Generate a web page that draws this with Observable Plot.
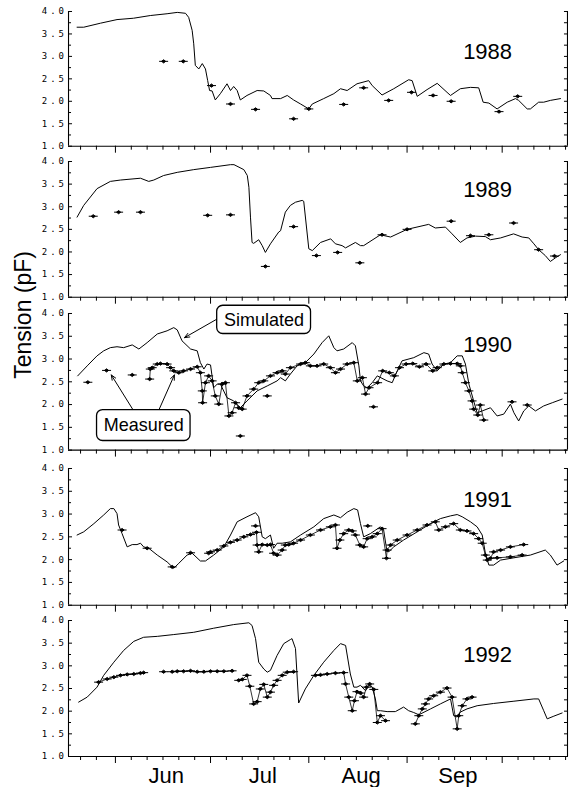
<!DOCTYPE html>
<html>
<head>
<meta charset="utf-8">
<script src="https://cdn.jsdelivr.net/npm/d3@7"></script>
<script src="https://cdn.jsdelivr.net/npm/@observablehq/plot@0.6"></script>
<style>
  html, body { margin: 0; padding: 0; background: white; }
  #chart { position: relative; width: 571px; height: 787px; overflow: hidden; }
  #chart svg { position: absolute; left: 0; }
  g[aria-label="y-axis tick label"] { letter-spacing: 3px; }
</style>
</head>
<body>
<div id="chart"></div>
<script>
// ---------- data (x = day of year, y = tension pF) ----------
const sim1988 = [[139.9,3.65],[142.0,3.65],[147.3,3.74],[152.5,3.82],[157.7,3.85],[163.0,3.91],[168.3,3.95],[171.5,3.98],[174.1,3.96],[175.1,3.87],[176.2,3.58],[176.7,3.28],[177.2,2.80],[178.3,2.72],[179.4,2.84],[180.4,2.72],[181.1,2.46],[181.7,2.24],[182.5,2.23],[183.5,2.03],[185.1,2.17],[187.2,2.39],[188.3,2.24],[189.3,2.33],[190.4,2.24],[191.4,2.03],[193.5,2.13],[196.7,2.24],[198.8,2.23],[200.9,2.13],[201.4,2.06],[204.1,2.06],[206.2,2.13],[208.2,2.03],[210.4,1.94],[213.0,1.83],[214.1,1.94],[217.7,2.06],[220.9,2.17],[223.0,2.28],[225.1,2.24],[228.2,2.39],[231.9,2.46],[233.0,2.35],[236.1,2.14],[239.8,2.28],[244.5,2.48],[245.6,2.46],[247.2,2.11],[250.3,2.26],[253.5,2.40],[256.6,2.20],[257.7,2.13],[260.8,2.28],[264.0,2.31],[266.6,2.30],[268.0,1.98],[269.8,1.96],[272.4,1.83],[275.6,1.98],[278.2,2.06],[279.2,2.02],[281.9,1.83],[282.9,1.83],[285.5,1.98],[287.1,1.98],[289.2,2.02],[292.4,2.06]];
const iso1988 = [[167.2,2.89],[173.4,2.89],[182.3,2.35],[188.3,1.94],[196.2,1.82],[208.2,1.61],[213.0,1.83],[224.0,1.93],[230.3,2.30],[238.2,2.02],[245.4,2.20],[252.2,2.13],[257.9,2.00],[273.0,1.77],[278.9,2.11]];
const runs1988 = [];

const sim1989 = [[139.9,2.77],[142.0,3.03],[146.2,3.40],[150.4,3.56],[153.6,3.59],[159.9,3.63],[162.5,3.56],[164.1,3.59],[167.2,3.69],[171.5,3.76],[176.7,3.82],[182.0,3.87],[188.3,3.93],[189.4,3.93],[192.5,3.82],[193.6,3.69],[194.1,3.43],[194.6,2.77],[195.1,2.21],[195.6,2.19],[197.2,2.27],[198.3,2.14],[199.3,1.99],[200.9,2.18],[203.5,2.44],[204.1,2.47],[205.6,2.88],[207.2,3.03],[208.8,3.10],[210.9,3.14],[211.4,3.12],[213.0,2.07],[214.1,2.03],[216.7,2.21],[219.9,2.29],[221.4,2.18],[223.5,2.14],[224.6,2.09],[227.7,2.21],[229.3,2.14],[230.3,2.14],[235.6,2.38],[238.8,2.33],[244.0,2.50],[250.8,2.61],[252.9,2.53],[256.1,2.55],[258.2,2.40],[260.8,2.21],[262.9,2.31],[265.6,2.35],[268.7,2.34],[270.3,2.27],[273.5,2.31],[277.6,2.40],[280.3,2.33],[282.4,2.31],[284.0,2.18],[285.5,2.05],[287.6,1.92],[289.2,1.79],[290.8,1.87],[292.4,1.94]];
const iso1989 = [[145.0,2.79],[153.0,2.88],[159.9,2.88],[181.1,2.81],[188.3,2.82],[199.3,1.68],[208.2,2.56],[215.4,1.92],[222.1,1.99],[229.1,1.76],[236.1,2.38],[244.0,2.50],[257.9,2.68],[264.0,2.36],[269.8,2.38],[277.6,2.64],[285.5,2.05],[290.5,1.91]];
const runs1989 = [];

const sim1990 = [[140.1,2.63],[143.1,2.85],[146.2,3.07],[148.3,3.18],[150.4,3.25],[152.5,3.27],[154.6,3.25],[157.3,3.31],[159.4,3.22],[162.0,3.36],[165.2,3.55],[168.3,3.62],[170.4,3.69],[171.5,3.64],[173.0,3.40],[175.7,3.22],[177.8,3.18],[178.8,2.92],[179.9,2.78],[180.9,2.89],[182.0,2.87],[183.0,2.37],[184.1,2.45],[185.1,2.45],[187.2,2.15],[189.3,2.08],[191.4,1.93],[193.5,2.08],[196.7,2.30],[199.9,2.41],[203.0,2.52],[204.1,2.59],[205.6,2.52],[207.2,2.67],[209.3,2.85],[211.9,2.92],[214.6,3.11],[217.2,3.36],[219.3,3.51],[220.9,3.25],[221.9,3.18],[224.0,3.22],[226.7,3.36],[227.7,3.29],[228.8,2.85],[229.3,2.52],[230.3,2.41],[231.4,2.37],[233.0,2.48],[234.6,2.63],[237.7,2.52],[239.3,2.48],[240.9,2.74],[242.4,2.96],[246.1,3.03],[249.3,3.14],[250.8,3.11],[251.9,2.89],[253.5,2.74],[255.6,2.89],[257.7,2.92],[259.8,3.07],[261.4,3.07],[262.4,2.89],[263.5,2.45],[265.0,2.08],[266.1,1.82],[267.7,1.86],[270.3,1.93],[272.4,1.75],[274.5,1.79],[276.6,2.01],[277.7,1.82],[279.2,1.64],[280.8,1.86],[282.4,1.97],[284.5,1.86],[287.1,1.97],[289.8,2.04],[292.9,2.12]];
const iso1990 = [[143.3,2.49],[149.2,2.75],[157.3,2.65],[191.4,1.31],[199.9,2.19],[233.4,1.95],[277.1,2.06],[281.9,1.99]];
const runs1990 = [
  [[162.8,2.56],[163.0,2.78],[163.6,2.81],[165.2,2.89],[166.2,2.90],[168.3,2.89],[169.4,2.81],[170.4,2.74],[172.0,2.70],[173.5,2.74],[175.7,2.78],[177.8,2.83],[178.8,2.70],[179.4,2.30],[179.5,2.04],[180.4,2.48],[181.4,2.63],[182.5,2.52],[183.5,2.19],[184.6,2.01],[185.7,2.45],[186.7,2.48],[187.8,1.75],[188.8,1.82],[189.9,2.04],[190.9,1.93],[192.0,1.90],[193.5,2.19],[195.6,2.34],[197.2,2.48],[198.8,2.52],[200.9,2.63],[203.0,2.70],[204.6,2.74],[205.6,2.67],[207.2,2.81],[210.4,2.89],[211.9,2.92],[213.5,2.85],[215.6,2.85],[217.7,2.89],[219.8,2.81],[221.4,2.70],[223.0,2.78],[225.1,2.89],[227.2,2.92],[228.3,2.52],[229.9,2.59],[230.9,2.23],[232.0,2.37],[234.7,2.48],[236.3,2.74],[238.4,2.70],[240.0,2.63],[241.6,2.81],[243.7,2.89],[245.8,2.90],[247.9,2.83],[250.0,2.89],[252.1,2.74],[253.5,2.81],[255.6,2.89],[257.7,2.90],[259.8,2.90],[260.8,2.85],[261.4,2.70],[262.4,2.48],[263.5,2.30],[264.5,2.08],[265.0,1.90],[266.3,1.77],[267.1,1.99],[268.2,1.66]]
];

const sim1991 = [[139.9,2.54],[142.0,2.61],[145.2,2.79],[148.3,2.98],[150.4,3.12],[151.5,3.12],[152.5,3.01],[153.0,2.76],[154.1,2.57],[155.7,2.28],[157.3,2.33],[158.8,2.33],[159.9,2.36],[160.9,2.28],[162.5,2.25],[165.2,2.10],[168.3,1.95],[170.4,1.81],[172.0,1.92],[174.6,2.10],[176.2,2.14],[178.8,1.97],[180.4,1.97],[183.0,2.10],[186.2,2.28],[188.3,2.54],[190.4,2.83],[193.5,2.94],[196.2,3.03],[197.2,2.94],[198.3,2.50],[199.3,2.46],[200.9,2.54],[201.9,2.25],[203.0,2.36],[204.6,2.36],[207.2,2.39],[210.4,2.54],[214.6,2.72],[217.7,2.90],[220.9,2.98],[223.0,2.92],[225.1,3.04],[227.2,3.12],[228.4,3.09],[229.3,2.79],[230.3,2.50],[232.4,2.57],[235.6,2.72],[236.6,2.65],[237.5,2.25],[238.2,2.17],[239.8,2.28],[242.9,2.43],[247.2,2.61],[251.4,2.79],[254.5,2.90],[257.7,2.96],[259.8,2.99],[261.4,2.94],[264.0,2.83],[266.1,2.72],[267.7,2.54],[268.7,2.14],[269.8,1.88],[271.3,1.88],[273.5,1.99],[277.7,2.04],[282.9,2.10],[287.6,2.21],[289.2,2.10],[291.3,1.88],[293.4,1.97]];
const iso1991 = [[154.1,2.65],[162.0,2.25],[169.9,1.84],[175.7,2.15],[196.2,2.74],[231.6,2.74]];
const runs1991 = [
  [[181.4,2.14],[182.0,2.17],[184.1,2.21],[186.2,2.30],[188.3,2.38],[190.4,2.43],[192.5,2.50],[194.6,2.55],[196.5,2.60],[196.7,2.32],[197.2,2.17],[198.3,2.33],[199.9,2.32],[200.9,2.33],[201.9,2.14],[203.0,2.10],[204.6,2.21],[205.6,2.32],[206.7,2.33],[208.2,2.36],[210.4,2.43],[213.5,2.54],[216.7,2.65],[219.8,2.72],[221.4,2.76],[221.9,2.25],[222.8,2.43],[224.0,2.57],[225.6,2.65],[226.7,2.63],[227.7,2.54],[229.1,2.32],[230.3,2.28],[231.4,2.46],[233.0,2.50],[234.6,2.57],[236.1,2.68],[237.5,2.03],[237.7,2.21],[238.8,2.32],[240.9,2.43],[244.0,2.54],[247.2,2.65],[250.3,2.76],[252.9,2.83],[254.0,2.65],[256.1,2.72],[258.7,2.79],[260.8,2.65],[262.9,2.63],[265.0,2.57],[266.6,2.46],[267.7,2.36],[268.7,2.10],[269.3,1.99],[270.3,2.03],[271.3,2.17],[273.5,2.21],[276.6,2.28],[280.8,2.33]],
  [[272.4,2.04],[276.6,2.06],[280.3,2.10]]
];

const sim1992 = [[140.4,2.20],[143.1,2.31],[146.2,2.53],[148.3,2.79],[151.5,3.08],[154.6,3.34],[157.8,3.54],[160.9,3.63],[165.2,3.65],[170.4,3.69],[176.7,3.74],[183.0,3.83],[189.3,3.91],[194.1,3.95],[195.1,3.89],[196.2,3.60],[197.2,3.08],[198.8,2.93],[199.9,2.86],[200.9,2.90],[203.0,3.23],[205.1,3.49],[207.2,3.58],[207.7,3.60],[208.8,3.38],[209.8,2.18],[211.9,2.49],[214.6,2.79],[217.7,3.08],[220.9,3.34],[223.0,3.49],[224.6,3.45],[226.1,2.82],[227.2,2.53],[228.2,2.53],[229.3,2.57],[230.9,2.45],[231.9,2.57],[233.0,2.53],[234.0,2.27],[234.6,2.01],[235.6,2.01],[237.7,1.99],[240.3,1.99],[242.9,2.09],[244.5,2.01],[246.1,1.97],[247.7,1.92],[251.4,2.05],[254.5,2.16],[257.7,2.27],[258.7,1.90],[259.8,1.87],[260.8,1.98],[262.9,2.05],[266.1,2.12],[271.3,2.17],[277.7,2.22],[284.0,2.27],[285.5,2.27],[287.1,2.01],[288.2,1.83],[290.3,1.89],[292.9,1.96]];
const iso1992 = [[167.2,2.87]];
const runs1992 = [
  [[146.7,2.64],[149.4,2.71],[151.5,2.75],[153.6,2.79],[155.7,2.81],[157.8,2.82],[159.9,2.84],[160.9,2.85]],
  [[169.9,2.87],[171.5,2.88],[173.5,2.88],[175.7,2.89],[177.8,2.87],[179.9,2.87],[182.0,2.88],[184.1,2.88],[186.2,2.88],[188.8,2.89]],
  [[190.9,2.68],[192.0,2.70],[193.5,2.79],[194.4,2.55],[195.6,2.16],[196.7,2.21],[197.7,2.49],[198.8,2.59],[199.9,2.31],[200.9,2.42],[201.9,2.57],[203.0,2.68],[204.6,2.79],[206.2,2.86],[208.2,2.87]],
  [[215.1,2.79],[216.7,2.80],[218.8,2.82],[221.4,2.84],[224.0,2.85],[224.6,2.60],[225.6,2.31],[226.7,2.01],[227.4,2.23],[228.2,2.43],[229.3,2.40],[230.3,2.31],[231.2,2.53],[232.2,2.60],[233.5,2.48],[234.6,1.75],[235.6,1.90],[237.2,1.79]],
  [[246.6,1.72],[247.7,1.90],[248.8,2.05],[249.8,2.16],[250.8,2.27],[252.4,2.34],[254.5,2.42],[256.6,2.51],[258.2,2.31],[259.8,1.61],[260.3,1.90],[261.4,2.12],[262.9,2.27],[264.5,2.31]]
];

// axis ticks and labels
const yMajorTicks = [1, 1.5, 2, 2.5, 3, 3.5, 4];
const yMinorTicks = [1.25, 1.75, 2.25, 2.75, 3.25, 3.75];
const monthStarts = [152, 182, 213, 244, 274];       // Jun 1 .. Oct 1
const dayTicks = [141,146,157,162,167,172,177,187,192,197,202,207,218,223,228,233,238,249,254,259,264,269,279,284,289,294];
const monthNames = ["Jun", "Jul", "Aug", "Sep"];
const years = ["1988", "1989", "1990", "1991", "1992"];
const yearLabelY = [3.11, 3.37, 3.32, 3.30, 3.23];
const yAxisTitle = "Tension (pF)";

// annotations in 1990 panel
const annBoxes = [
  {label: "Simulated", x1: 184.1, x2: 213.7, y1: 3.55, y2: 4.17, tx: 198.9, ty: 3.86},
  {label: "Measured", x1: 146.2, x2: 175.7, y1: 1.20, y2: 1.88, tx: 160.9, ty: 1.54}
];
const annArrows = [
  {x1: 184.1, y1: 3.88, x2: 173.8, y2: 3.47},
  {x1: 157.6, y1: 1.88, x2: 150.7, y2: 2.65},
  {x1: 165.7, y1: 1.88, x2: 170.6, y2: 2.65}
];

// ---------- layout ----------
const X_DOMAIN = [137.2, 294.6];
const panelTop = [11, 161, 312.7, 468.3, 620];
const panelBottom = [145.7, 296.7, 449.3, 605, 756];
const M_TOP = 10;

const series = [
  {sim: sim1988, iso: iso1988, runs: runs1988},
  {sim: sim1989, iso: iso1989, runs: runs1989},
  {sim: sim1990, iso: iso1990, runs: runs1990},
  {sim: sim1991, iso: iso1991, runs: runs1991},
  {sim: sim1992, iso: iso1992, runs: runs1992}
];

const measSymbol = {
  draw(ctx, size) {
    const s = Math.sqrt(size) * 0.5;
    ctx.moveTo(-s * 1.15, 0);
    ctx.lineTo(0, -s * 0.9);
    ctx.lineTo(s * 1.15, 0);
    ctx.lineTo(0, s * 0.9);
    ctx.closePath();
    ctx.moveTo(-4.5, 0);
    ctx.lineTo(4.5, 0);
  }
};

const monthMid = monthStarts.slice(0, -1).map((d, i) => (d + monthStarts[i + 1]) / 2 + 1);
const fmt = d3.format(".1f");
const chart = document.getElementById("chart");

series.forEach((s, i) => {
  const last = i === series.length - 1;
  const innerH = panelBottom[i] - panelTop[i];
  const mBottom = last ? 31 : 12;
  const runPts = s.runs.flatMap((r, k) => r.map(p => ({x: p[0], y: p[1], run: k})));
  const allPts = s.iso.map(p => ({x: p[0], y: p[1]})).concat(runPts);

  const marks = [
    Plot.ruleX(X_DOMAIN, {stroke: "black", strokeWidth: 1.1}),
    Plot.ruleY([1], {stroke: "black", strokeWidth: 1.1}),
    Plot.axisY({ticks: yMajorTicks, anchor: "left", tickSize: -4, tickPadding: 5.5, tickFormat: fmt,
                fontFamily: "'DejaVu Sans Mono', monospace", fontSize: 9, label: null}),
    Plot.axisY({ticks: yMinorTicks, anchor: "left", tickSize: -3, tickFormat: () => "", label: null}),
    Plot.axisY({ticks: yMajorTicks.concat(yMinorTicks), anchor: "right", tickSize: -4, tickFormat: () => "", label: null}),
    Plot.axisX({ticks: monthStarts, anchor: "bottom", tickSize: 7, tickFormat: () => "", label: null}),
    Plot.axisX({ticks: dayTicks, anchor: "bottom", tickSize: 4, tickFormat: () => "", label: null}),
    Plot.line(s.sim, {x: d => d[0], y: d => d[1], stroke: "black", strokeWidth: 1}),
    Plot.line(runPts, {x: "x", y: "y", z: "run", stroke: "black", strokeWidth: 0.8}),
    Plot.dot(allPts, {x: "x", y: "y", r: 2, symbol: measSymbol, fill: "black", stroke: "black", strokeWidth: 1}),
    Plot.text([years[i]], {x: 269.4, y: yearLabelY[i], text: d => d, fontSize: 22, textAnchor: "middle"})
  ];
  if (last) {
    marks.push(Plot.axisX({ticks: monthMid, anchor: "bottom", tickSize: 0, tickPadding: 11,
      tickFormat: d => monthNames[monthMid.indexOf(d)], fontSize: 22, label: null}));
  }
  if (i === 2) {
    marks.push(
      Plot.arrow(annArrows, {x1: "x1", y1: "y1", x2: "x2", y2: "y2", stroke: "black", strokeWidth: 1, headLength: 8, headAngle: 45}),
      Plot.rect(annBoxes, {x1: "x1", x2: "x2", y1: "y1", y2: "y2", rx: 6, fill: "white", stroke: "black", strokeWidth: 1.3}),
      Plot.text(annBoxes, {x: "tx", y: "ty", text: "label", fontSize: 18}),
      Plot.text([yAxisTitle], {frameAnchor: "left", text: d => d, rotate: -90, dx: -45, dy: -3, fontSize: 23})
    );
  }

  const svg = Plot.plot({
    width: 571,
    height: innerH + M_TOP + mBottom,
    marginLeft: 68,
    marginRight: 4,
    marginTop: M_TOP,
    marginBottom: mBottom,
    x: {domain: X_DOMAIN},
    y: {domain: [1, 4]},
    style: {background: "transparent", fontFamily: "'Liberation Sans', Arial, sans-serif", color: "black", overflow: "visible"},
    marks
  });
  svg.style.top = (panelTop[i] - M_TOP) + "px";
  chart.appendChild(svg);
});
</script>
</body>
</html>
